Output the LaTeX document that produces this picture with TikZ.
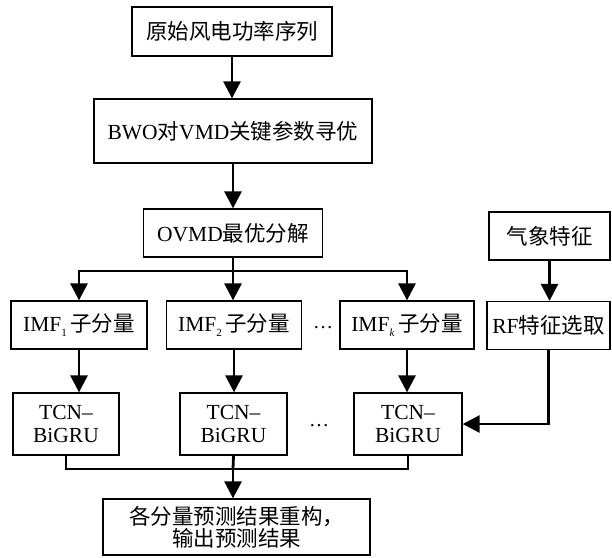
\documentclass[tikz,border=0pt]{standalone}
\usepackage{fontspec}
\setmainfont{Liberation Serif}
\newfontfamily\cjk{Noto Sans CJK SC}
\usetikzlibrary{arrows.meta}
\newcommand\zhx[1]{{\cjk #1}}
\newcommand\subx[1]{\raisebox{-5pt}{\fontsize{11}{11}\selectfont #1}}
\begin{document}
\begin{tikzpicture}[x=1pt,y=-1pt,
  box/.style={draw, line width=1.3pt, inner sep=0pt, align=center, font=\fontsize{21.5}{22.5}\selectfont},
  conn/.style={line width=2.8pt},
  arr/.style={conn, -{Triangle[length=17pt,width=17pt]}},
  dotsnode/.style={inner sep=0pt, font=\fontsize{20}{22}\selectfont}]
\useasboundingbox (0,0) rectangle (612,557);
\node[box, minimum width=200pt, minimum height=49pt] (b1) at (232,31.5) {\zhx{原始风电功率序列}};
\node[box, minimum width=278pt, minimum height=64pt] (b2) at (233,131) {BWO\zhx{对}VMD\zhx{关键参数寻优}};
\node[box, minimum width=179pt, minimum height=48pt] (b3) at (233,233) {OVMD\zhx{最优分解}};
\node[box, minimum width=121pt, minimum height=48pt] (q) at (549.5,236) {\zhx{气象特征}};
\node[box, minimum width=136pt, minimum height=48pt] (imf1) at (79,325) {IMF\subx{1}\,\zhx{子分量}};
\node[box, minimum width=135pt, minimum height=48pt] (imf2) at (234,325) {IMF\subx{2}\,\zhx{子分量}};
\node[box, minimum width=134pt, minimum height=48pt] (imfk) at (407,325) {IMF\subx{\textit{k}}\,\zhx{子分量}};
\node[box, minimum width=123pt, minimum height=48pt] (rf) at (548.5,325.5) {RF\zhx{特征选取}};
\node[box, minimum width=106pt, minimum height=62pt] (tcn1) at (66,424) {TCN–\\BiGRU};
\node[box, minimum width=107pt, minimum height=62pt] (tcn2) at (233.5,424) {TCN–\\BiGRU};
\node[box, minimum width=108pt, minimum height=62pt] (tcnk) at (408,424) {TCN–\\BiGRU};
\node[box, minimum width=267pt, minimum height=56pt] (fin) at (236.5,527) {\zhx{各分量预测结果重构，}\\\zhx{输出预测结果}};
\node[dotsnode] (d1) at (323,328) {…};
\node[dotsnode] (d2) at (319,426) {…};
\coordinate (bus) at (233,271);
\coordinate (bus2) at (233,469);
% top chain
\draw[arr] (b1.south) -- (b1.south |- b2.north);
\draw[arr] (b2.south) -- (b2.south |- b3.north);
% split bus
\draw[arr] (b3.south) -- (bus) -| (imf1.north);
\draw[arr] (bus) -| (imfk.north);
\draw[arr] (bus) -- (bus |- imf2.north);
% IMF to TCN
\draw[arr] (imf1.south) -- (imf1.south |- tcn1.north);
\draw[arr] (imf2.south) -- (imf2.south |- tcn2.north);
\draw[arr] (imfk.south) -- (imfk.south |- tcnk.north);
% weather features
\draw[arr] (q.south) -- (q.south |- rf.north);
\draw[arr] (rf.south) |- (tcnk.east);
% merge bus
\draw[conn] (tcn1.south) |- (bus2) -| (tcnk.south);
\draw[conn] (tcn2.south) -- (bus2);
\draw[arr] (bus2) -- (bus2 |- fin.north);
\end{tikzpicture}
\end{document}
